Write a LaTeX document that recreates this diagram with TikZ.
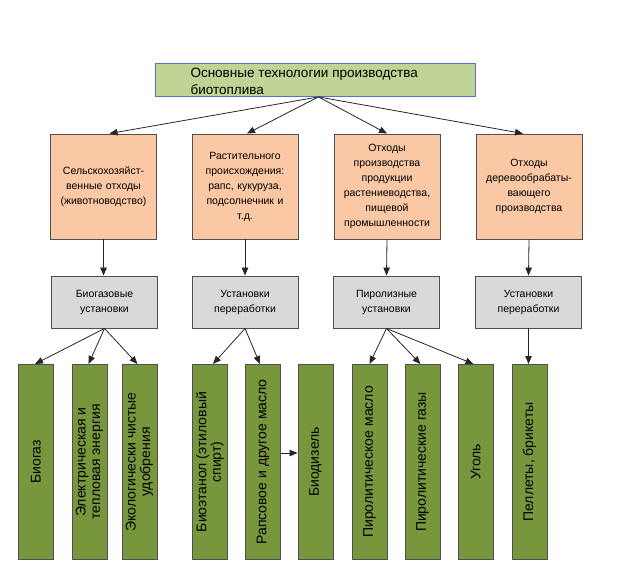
\documentclass[tikz,border=0pt]{standalone}
\usepackage{fontspec}
\setmainfont{Liberation Sans}
\usetikzlibrary{arrows.meta}
\definecolor{peach}{RGB}{250,200,165}
\definecolor{greybox}{RGB}{217,217,217}
\definecolor{olive}{RGB}{120,150,60}
\definecolor{lightgreen}{RGB}{192,212,150}
\definecolor{edge}{RGB}{80,80,80}
\definecolor{bluish}{RGB}{90,110,210}
\tikzset{
  srcbox/.style={draw=edge, line width=0.9pt, fill=peach, minimum width=106pt, minimum height=105pt,
    text width=102pt, align=center, font=\fontsize{10.5}{15}\selectfont, inner sep=2pt},
  instbox/.style={draw=edge, line width=0.9pt, fill=greybox, minimum width=106pt, minimum height=52pt,
    text width=100pt, align=center, font=\fontsize{10.5}{15}\selectfont, inner sep=2pt},
  prodbar/.style={draw=edge, line width=0.9pt, fill=olive, minimum width=35pt, minimum height=195pt,
    inner sep=0pt},
  prodtext/.style={rotate=90, align=center, font=\fontsize{14}{14.5}\selectfont},
  arr/.style={draw=black!85, line width=0.8pt, -{Triangle[length=8pt,width=6.5pt]}},
}
\begin{document}
\begin{tikzpicture}[x=1pt,y=-1pt]
\useasboundingbox (0,0) rectangle (620,566);
% top box
\node[draw=bluish, line width=0.9pt, fill=lightgreen, minimum width=320pt, minimum height=33pt,
  anchor=north west, inner sep=0pt] (top) at (155,63) {};
\node[anchor=west, align=left, font=\fontsize{13.5}{17}\selectfont] (title) at (187,81)
  {Основные технологии производства\\биотоплива};
% source boxes
\node[srcbox] (o1) at (103.5,186.5) {Сельскохозяйст-\\венные отходы\\(животноводство)};
\node[srcbox] (o2) at (245,186.5) {Растительного\\происхождения:\\рапс, кукуруза,\\подсолнечник и\\т.д.};
\node[srcbox] (o3) at (387,186.5) {Отходы\\производства\\продукции\\растениеводства,\\пищевой\\промышленности};
\node[srcbox] (o4) at (529,186.5) {Отходы\\деревообрабаты-\\вающего\\производства};
% installation boxes
\node[instbox] (g1) at (104.5,302) {Биогазовые\\установки};
\node[instbox] (g2) at (245,302) {Установки\\переработки};
\node[instbox] (g3) at (386.5,302) {Пиролизные\\установки};
\node[instbox] (g4) at (528.5,302) {Установки\\переработки};
% product bars
\foreach \n/\x in {b1/36,b2/89.5,b3/139.5,b4/210,b5/263,b6/315.5,b7/369.5,b8/422.5,b9/475.5,b10/529.5}{
  \node[prodbar, anchor=north] (\n) at (\x,364) {};
}
\node[prodtext] at (b1) {Биогаз};
\node[prodtext] at (b2) {Электрическая и\\тепловая энергия};
\node[prodtext] at (b3) {Экологически чистые\\удобрения};
\node[prodtext] at (b4) {Биоэтанол (этиловый\\спирт)};
\node[prodtext] at (b5) {Рапсовое и другое масло};
\node[prodtext] at (b6) {Биодизель};
\node[prodtext] at (b7) {Пиролитическое масло};
\node[prodtext] at (b8) {Пиролитические газы};
\node[prodtext] at (b9) {Уголь};
\node[prodtext] at (b10) {Пеллеты, брикеты};
% arrows from top
\coordinate (tp) at ([xshift=3pt]top.south);
\draw[arr] (tp) -- ([xshift=6pt]o1.north);
\draw[arr] (tp) -- ([xshift=2pt]o2.north);
\draw[arr] (tp) -- (o3.north);
\draw[arr] (tp) -- ([xshift=-6pt]o4.north);
% source -> installation
\draw[arr] (o1.south) -- (o1.south |- g1.north);
\draw[arr] (o2.south) -- (g2.north);
\draw[arr] (o3.south) -- (g3.north);
\draw[arr] (o4.south) -- (g4.north);
% installation -> products
\draw[arr] (g1.south) -- ([xshift=-1pt]b1.north);
\draw[arr] (g1.south) -- ([xshift=-1pt]b2.north);
\draw[arr] (g1.south) -- ([xshift=-2pt]b3.north);
\draw[arr] (g2.south) -- ([xshift=3pt]b4.north);
\draw[arr] (g2.south) -- ([xshift=-3pt]b5.north);
\draw[arr] (g3.south) -- (b7.north);
\draw[arr] (g3.south) -- ([xshift=-2pt]b8.north);
\draw[arr] (g3.south) -- ([xshift=-2pt]b9.north);
\draw[arr] (g4.south) -- (g4.south |- b10.north);
% product -> product
\draw[arr] (b5.east |- 0,453) -- (b6.west |- 0,453);
\end{tikzpicture}
\end{document}
